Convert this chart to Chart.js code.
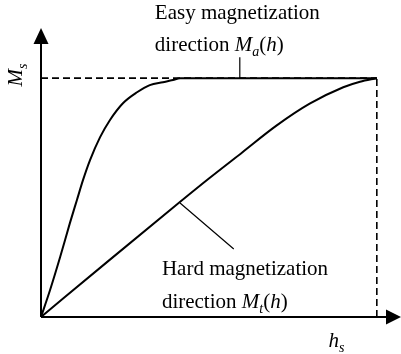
<!DOCTYPE html>
<html>
<head>
<meta charset="utf-8">
<script src="https://cdn.jsdelivr.net/npm/chart.js@4"></script>
<style>
  html, body { margin: 0; padding: 0; background: #fff; }
  #wrap { width: 401px; height: 354px; }
</style>
</head>
<body>
<div id="wrap"><canvas id="magChart" width="401" height="354"></canvas></div>
<script>
// h in units where hs = 10, M normalised so Ms = 1
const hSat = 10;
const mSat = 1;

// easy direction M_a(h)
const easyH = [0, 0.27, 0.57, 0.86, 1.07, 1.25, 1.46, 1.76, 2.05, 2.44, 2.86, 3.24, 3.63, 3.93, 4.14, 10];
const easyM = [0, 0.113, 0.251, 0.393, 0.49, 0.573, 0.657, 0.753, 0.824, 0.895, 0.941, 0.971, 0.983, 0.992, 1, 1];

// hard direction M_t(h)
const hardH = [0, 2, 4, 5, 6, 7, 8, 9, 9.5, 10];
const hardM = [0, 0.234, 0.466, 0.58, 0.69, 0.80, 0.893, 0.962, 0.985, 1];

// where the axis arrows end
const hMax = 10.72;
const mMax = 1.21;

const toPoints = (xs, ys) => xs.map((x, i) => ({ x: x, y: ys[i] }));

const FONT = '"Liberation Serif", "Times New Roman", serif';
const SIZE = 21;
const SUB = 14;

// draws a run of text pieces: [text, italic, subscript]
function drawRun(ctx, parts, x, y) {
    let cx = x;
    parts.forEach(p => {
        const size = p[2] ? SUB : SIZE;
        ctx.font = (p[1] ? 'italic ' : '') + size + 'px ' + FONT;
        ctx.fillText(p[0], cx, p[2] ? y + 5 : y);
        cx += ctx.measureText(p[0]).width;
    });
    return cx - x;
}

function runWidth(ctx, parts) {
    let w = 0;
    parts.forEach(p => {
        ctx.font = (p[1] ? 'italic ' : '') + (p[2] ? SUB : SIZE) + 'px ' + FONT;
        w += ctx.measureText(p[0]).width;
    });
    return w;
}

const axesAndLabels = {
    id: 'axesAndLabels',
    afterDatasetsDraw(chart) {
        const ctx = chart.ctx;
        const xs = chart.scales.x;
        const ys = chart.scales.y;
        const px = v => xs.getPixelForValue(v);
        const py = v => ys.getPixelForValue(v);

        ctx.save();
        ctx.strokeStyle = '#000';
        ctx.fillStyle = '#000';

        // axes
        ctx.lineWidth = 2;
        ctx.beginPath();
        ctx.moveTo(px(0), py(0));
        ctx.lineTo(px(hMax) - 10, py(0));
        ctx.moveTo(px(0), py(0));
        ctx.lineTo(px(0), py(mMax) + 10);
        ctx.stroke();

        // arrow heads
        ctx.beginPath();
        ctx.moveTo(px(hMax), py(0));
        ctx.lineTo(px(hMax) - 15, py(0) - 7.5);
        ctx.lineTo(px(hMax) - 15, py(0) + 7.5);
        ctx.closePath();
        ctx.fill();
        ctx.beginPath();
        ctx.moveTo(px(0), py(mMax));
        ctx.lineTo(px(0) - 7.5, py(mMax) + 16);
        ctx.lineTo(px(0) + 7.5, py(mMax) + 16);
        ctx.closePath();
        ctx.fill();

        // leader lines
        ctx.lineWidth = 1.2;
        ctx.beginPath();
        ctx.moveTo(px(5.92), py(mSat));
        ctx.lineTo(px(5.92), py(1.088));
        ctx.moveTo(px(4.14), py(0.477));
        ctx.lineTo(px(5.74), py(0.285));
        ctx.stroke();

        // curve labels
        ctx.textBaseline = 'alphabetic';
        ctx.textAlign = 'left';
        drawRun(ctx, [['Easy magnetization', false, false]], px(3.39), py(1.247));
        drawRun(ctx, [['direction ', false, false], ['M', true, false], ['a', true, true],
            ['(', false, false], ['h', true, false], [')', false, false]], px(3.39), py(1.113));
        drawRun(ctx, [['Hard magnetization', false, false]], px(3.6), py(0.176));
        drawRun(ctx, [['direction ', false, false], ['M', true, false], ['t', true, true],
            ['(', false, false], ['h', true, false], [')', false, false]], px(3.6), py(0.038));

        // axis titles
        const hsParts = [['h', true, false], ['s', true, true]];
        drawRun(ctx, hsParts, px(8.8) - runWidth(ctx, hsParts) / 2, py(-0.126));

        const msParts = [['M', true, false], ['s', true, true]];
        ctx.translate(px(-0.57), py(1.013));
        ctx.rotate(-Math.PI / 2);
        drawRun(ctx, msParts, -runWidth(ctx, msParts) / 2, 0);

        ctx.restore();
    }
};

new Chart(document.getElementById('magChart'), {
    type: 'scatter',
    data: {
        datasets: [
            {
                // saturation level
                data: [{ x: 0, y: mSat }, { x: hSat, y: mSat }],
                showLine: true,
                borderColor: '#000',
                borderWidth: 1.6,
                borderDash: [7, 4],
                pointRadius: 0
            },
            {
                // saturation field
                data: [{ x: hSat, y: 0 }, { x: hSat, y: mSat }],
                showLine: true,
                borderColor: '#000',
                borderWidth: 1.6,
                borderDash: [7, 4],
                pointRadius: 0
            },
            {
                data: toPoints(easyH, easyM),
                showLine: true,
                borderColor: '#000',
                borderWidth: 2,
                cubicInterpolationMode: 'monotone',
                pointRadius: 0
            },
            {
                data: toPoints(hardH, hardM),
                showLine: true,
                borderColor: '#000',
                borderWidth: 2,
                cubicInterpolationMode: 'monotone',
                pointRadius: 0
            }
        ]
    },
    options: {
        responsive: false,
        animation: false,
        clip: false,
        layout: { padding: { left: 41, right: 0, top: 28, bottom: 37 } },
        plugins: {
            legend: { display: false },
            tooltip: { enabled: false }
        },
        scales: {
            x: { type: 'linear', min: 0, max: hMax, display: false },
            y: { type: 'linear', min: 0, max: mMax, display: false }
        }
    },
    plugins: [axesAndLabels]
});
</script>
</body>
</html>
